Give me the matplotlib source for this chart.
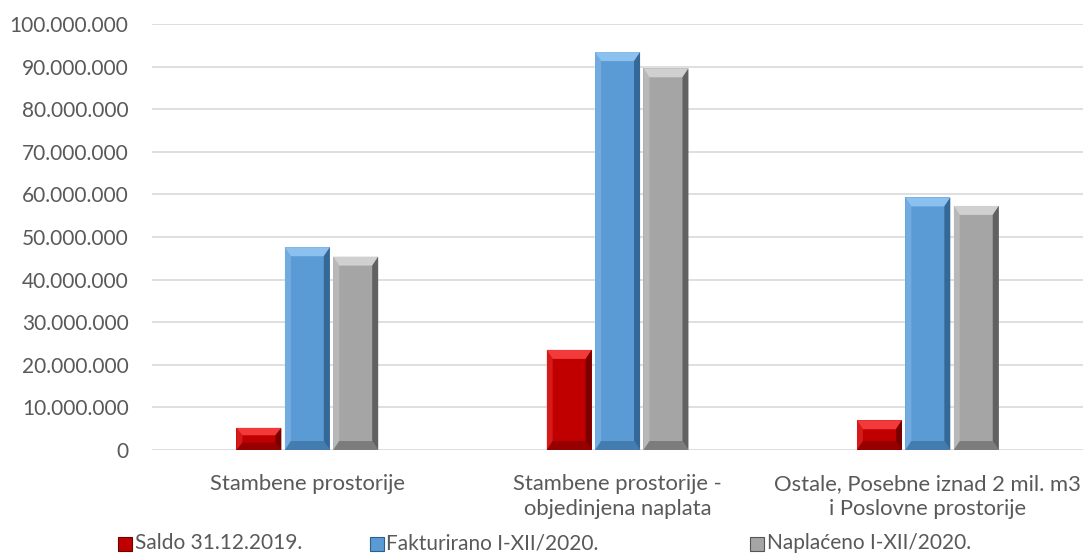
import numpy as np
import matplotlib.pyplot as plt
from matplotlib.patches import Polygon, Rectangle
from matplotlib.ticker import FuncFormatter

categories = ['Stambene prostorije',
              'Stambene prostorije -\nobjedinjena naplata',
              'Ostale, Posebne iznad 2 mil. m3\ni Poslovne prostorije']
series_names = ['Saldo 31.12.2019.', 'Fakturirano I-XII/2020.', 'Naplaćeno I-XII/2020.']
saldo = [5.2e6, 23.5e6, 7.0e6]
fakturirano = [47.6e6, 93.4e6, 59.3e6]
naplaceno = [45.4e6, 89.6e6, 57.3e6]

colors = ['#c00000', '#5b9bd5', '#a5a5a5']
light = ['#f23a3a', '#8cc0ee', '#d0d0d0']
dark = ['#6e0000', '#2e5f8c', '#555555']
text_col = '#595959'

plt.rcParams['font.family'] = ['Lato', 'DejaVu Sans']

fig = plt.figure(figsize=(10.87, 5.54), dpi=100)
ax = fig.add_axes([0.14, 0.1877, 0.8563, 0.769])

x = np.arange(len(categories))
width = 0.145
step = 0.156
all_vals = [saldo, fakturirano, naplaceno]

ax.set_xlim(-0.5, 2.5)
ax.set_ylim(0, 1e8)
ax.set_yticks(np.arange(0, 1e8 + 1, 1e7))
ax.yaxis.set_major_formatter(FuncFormatter(lambda v, p: f'{int(v):,}'.replace(',', '.')))
ax.grid(axis='y', color='#d9d9d9', linewidth=1.2)
ax.set_axisbelow(True)
for s in ax.spines.values():
    s.set_visible(False)
ax.tick_params(axis='y', length=0, labelsize=15, labelcolor=text_col, pad=17)

# pixel -> data scale for bevel
px_x = 3.0 / (0.8563 * 1087)
px_y = 1e8 / (0.769 * 554)
bx, by = 6 * px_x, 9 * px_y

for i, vals in enumerate(all_vals):
    bars = ax.bar(x + (i - 1) * step, vals, width, color=colors[i], zorder=2)
    for b in bars:
        x0, y0 = b.get_x(), b.get_y()
        w, h = b.get_width(), b.get_height()
        x1, y1 = x0 + w, y0 + h
        byy = min(by, h / 3)
        # top facet
        ax.add_patch(Polygon([(x0, y1), (x1, y1), (x1 - bx, y1 - byy), (x0 + bx, y1 - byy)],
                             closed=True, color=light[i], lw=0, zorder=3))
        # left facet
        ax.add_patch(Polygon([(x0, y0), (x0, y1), (x0 + bx, y1 - byy), (x0 + bx, y0 + byy)],
                             closed=True, color=light[i], alpha=0.45, lw=0, zorder=3))
        # right facet
        ax.add_patch(Polygon([(x1, y0), (x1, y1), (x1 - bx, y1 - byy), (x1 - bx, y0 + byy)],
                             closed=True, color=dark[i], alpha=0.85, lw=0, zorder=3))
        # bottom facet
        ax.add_patch(Polygon([(x0, y0), (x1, y0), (x1 - bx, y0 + byy), (x0 + bx, y0 + byy)],
                             closed=True, color=dark[i], alpha=0.5, lw=0, zorder=3))

ax.set_xticks(x)
ax.set_xticklabels(categories, fontsize=15.8, color=text_col, linespacing=1.35)
ax.tick_params(axis='x', length=0, pad=17)

# legend, placed manually like the original
leg_x = [0.1085, 0.340, 0.690]
for i, name in enumerate(series_names):
    fx = leg_x[i]
    fig.patches.append(Rectangle((fx, 0.005), 0.0129, 0.0253, transform=fig.transFigure,
                                 facecolor=colors[i], edgecolor=dark[i], lw=0.8))
    fig.text(fx + 0.0155, 0.019, name, fontsize=15, color=text_col, va='center', ha='left')

fig.savefig('out.png', dpi=100)
